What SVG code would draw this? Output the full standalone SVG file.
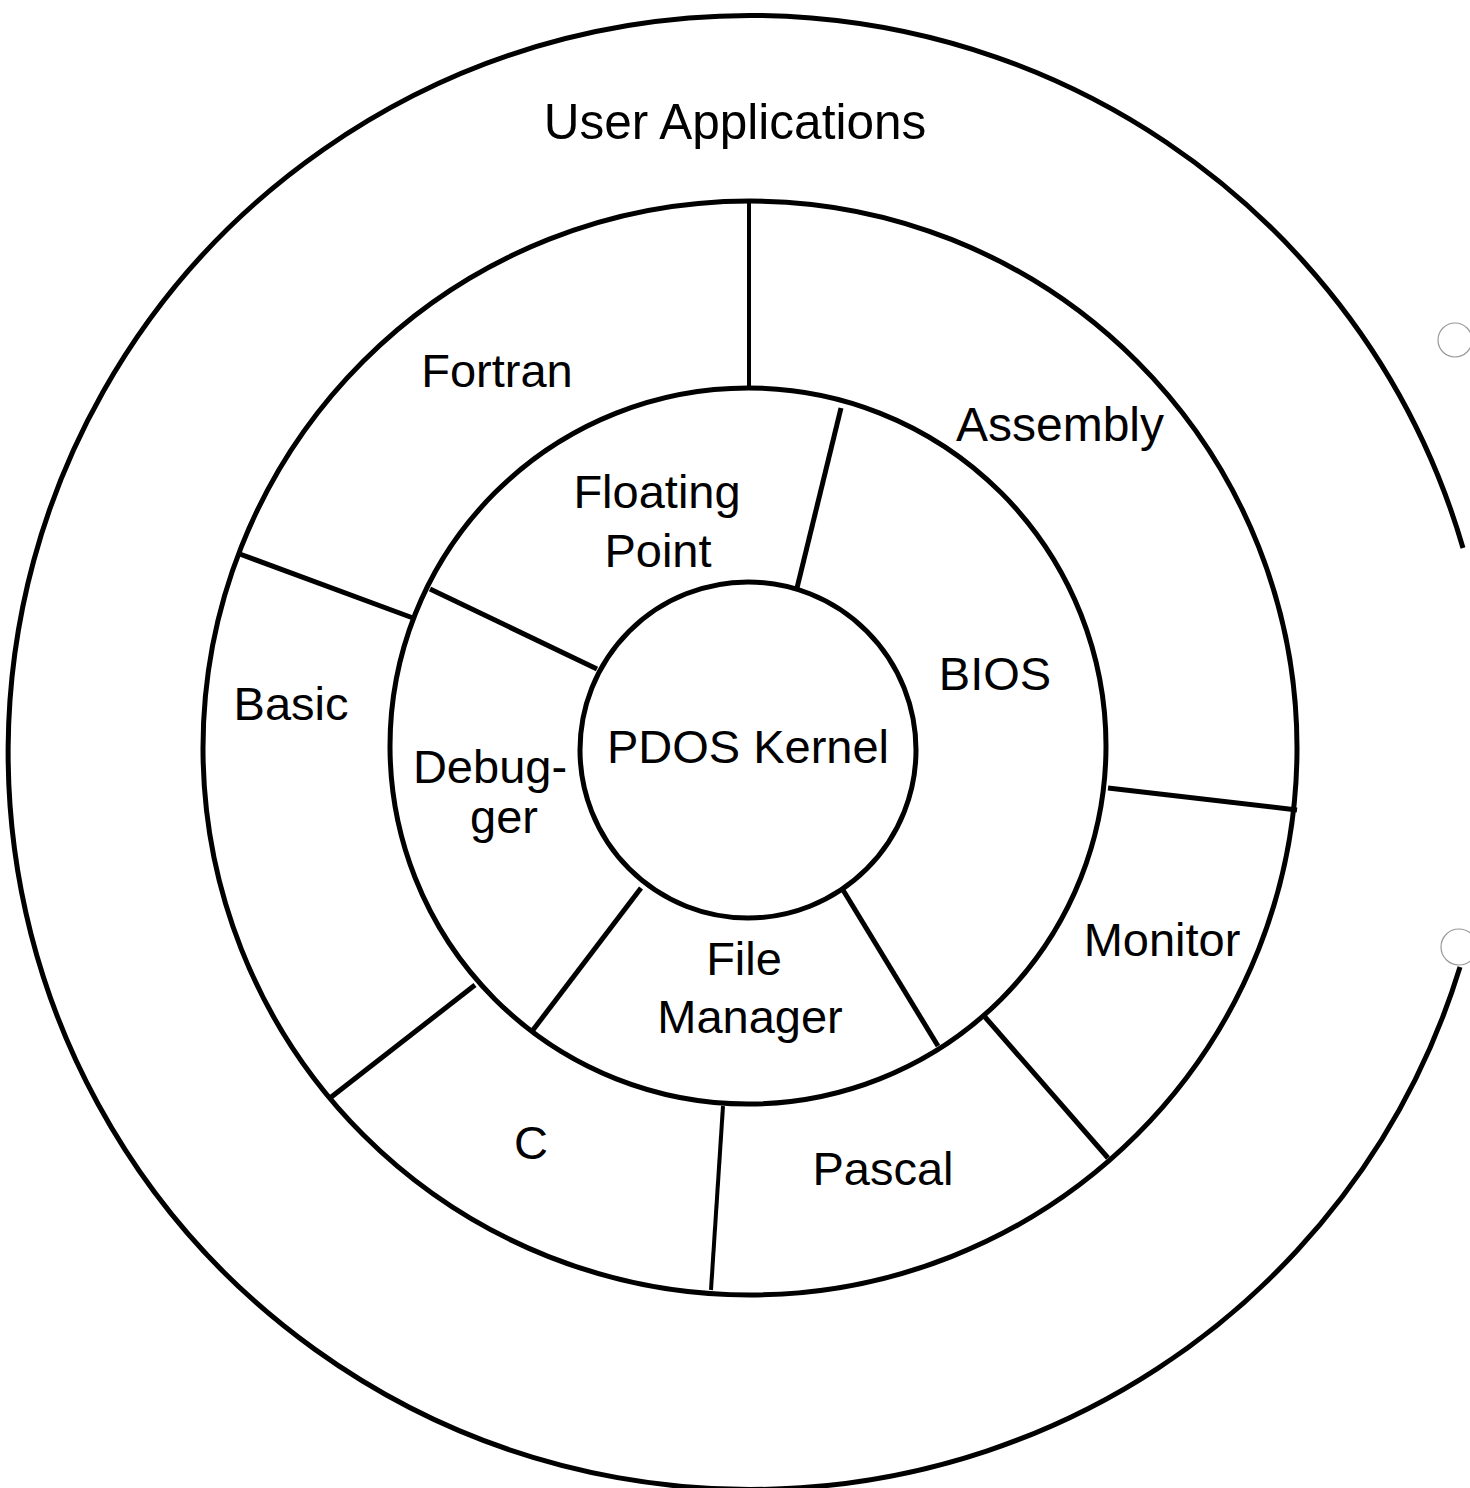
<svg xmlns="http://www.w3.org/2000/svg" width="1470" height="1488" viewBox="0 0 1470 1488">
  <style>
    .ring { fill: none; stroke: #000; stroke-width: 5; }
    .div { stroke: #000; stroke-width: 5; stroke-linecap: butt; }
    .thin { stroke-width: 4; }
    .lbl { font-family: "Liberation Sans", Arial, Helvetica, sans-serif; font-size: 47px; fill: #000; }
    .big { font-size: 49.5px; }
    .mid { font-size: 48px; }
    .hole { fill: none; stroke: #999; stroke-width: 1.2; }
  </style>
  <rect width="1470" height="1488" fill="#fff"/>

  <g id="rings">
    <path class="ring" d="M 1463 548 A 742 737 0 1 0 1460 967"/>
    <circle class="ring" cx="750" cy="748" r="547"/>
    <circle class="ring" cx="748" cy="746" r="358"/>
    <circle class="ring" cx="748" cy="750" r="168"/>
  </g>

  <g id="connectors">
    <line class="div thin" x1="749" y1="203" x2="749" y2="388"/>
    <line class="div" x1="237" y1="553" x2="413" y2="618"/>
    <line class="div" x1="330" y1="1098" x2="475" y2="985"/>
    <line class="div thin" x1="723" y1="1106" x2="711" y2="1290"/>
    <line class="div" x1="985" y1="1017" x2="1108" y2="1158"/>
    <line class="div" x1="1108" y1="788" x2="1297" y2="810"/>
    <line class="div" x1="841" y1="408" x2="797" y2="588"/>
    <line class="div" x1="430" y1="589" x2="597" y2="669"/>
    <line class="div" x1="641" y1="888" x2="533" y2="1030"/>
    <line class="div" x1="843" y1="890" x2="938" y2="1046"/>
  </g>

  <g id="holes">
    <circle class="hole" cx="1455" cy="340" r="17"/>
    <circle class="hole" cx="1459" cy="947" r="18"/>
  </g>

  <g id="user-applications"><text class="lbl big" x="735" y="139" text-anchor="middle">User Applications</text></g>
  <g id="fortran"><text class="lbl" x="497" y="387" text-anchor="middle">Fortran</text></g>
  <g id="assembly"><text class="lbl mid" x="1060" y="441" text-anchor="middle">Assembly</text></g>
  <g id="basic"><text class="lbl" x="291" y="720" text-anchor="middle">Basic</text></g>
  <g id="monitor"><text class="lbl" x="1162" y="956" text-anchor="middle">Monitor</text></g>
  <g id="pascal"><text class="lbl" x="883" y="1185" text-anchor="middle">Pascal</text></g>
  <g id="c"><text class="lbl" x="531" y="1159" text-anchor="middle">C</text></g>
  <g id="floating-point">
    <text class="lbl" x="657" y="508" text-anchor="middle">Floating</text>
    <text class="lbl" x="658" y="567" text-anchor="middle">Point</text>
  </g>
  <g id="bios"><text class="lbl" x="995" y="690" text-anchor="middle">BIOS</text></g>
  <g id="debugger">
    <text class="lbl" x="490" y="783" text-anchor="middle">Debug-</text>
    <text class="lbl" x="504" y="833" text-anchor="middle">ger</text>
  </g>
  <g id="file-manager">
    <text class="lbl" x="744" y="975" text-anchor="middle">File</text>
    <text class="lbl" x="750" y="1033" text-anchor="middle">Manager</text>
  </g>
  <g id="pdos-kernel"><text class="lbl" x="748" y="763" text-anchor="middle">PDOS Kernel</text></g>
</svg>
